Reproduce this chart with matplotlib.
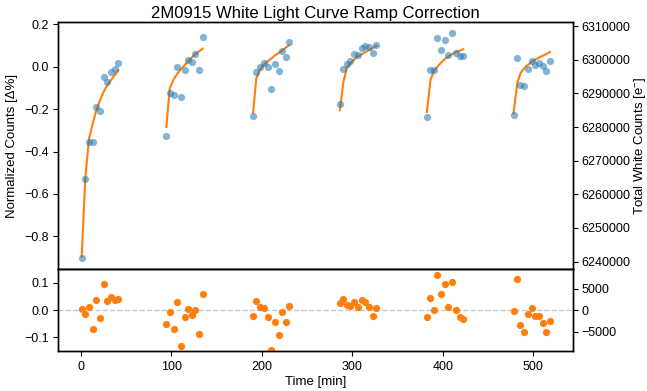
import matplotlib
matplotlib.use("Agg")
import matplotlib.pyplot as plt
import numpy as np

plt.rcParams['font.family'] = ['Liberation Sans', 'DejaVu Sans']
plt.rcParams['mathtext.default'] = 'regular'
plt.rcParams['axes.linewidth'] = 1.0

# time of each exposure per orbit [min]
t1 = [0.8, 4.8, 8.9, 13.0, 17.0, 21.1, 25.1, 29.2, 33.3, 37.4, 41.3]
t2 = [94.4, 98.1, 102.5, 106.1, 110.6, 114.6, 118.6, 122.7, 126.4, 130.8, 134.6]
t3 = [190.3, 193.8, 197.8, 201.9, 206.3, 210.0, 214.4, 218.5, 222.5, 226.5, 230.1]
t4 = [286.2, 290.2, 293.9, 297.9, 302.0, 306.1, 310.5, 314.5, 318.6, 322.7, 326.7]
t5 = [382.4, 386.4, 390.1, 394.1, 398.2, 402.3, 406.3, 410.4, 414.5, 418.5, 422.6]
t6 = [478.2, 482.3, 485.9, 490.0, 494.1, 498.1, 502.2, 506.3, 510.3, 514.4, 518.4]

# normalized white-light counts [Δ%]
f1 = [-0.903, -0.529, -0.356, -0.356, -0.190, -0.208, -0.046, -0.071, -0.025, -0.009, 0.020]
f2 = [-0.327, -0.122, -0.135, -0.003, -0.143, -0.016, 0.033, 0.025, 0.062, -0.016, 0.143]
f3 = [-0.232, -0.023, -0.003, 0.020, 0.001, -0.105, 0.014, -0.020, 0.076, 0.048, 0.119]
f4 = [-0.176, -0.011, 0.013, 0.029, 0.060, 0.058, 0.091, 0.097, 0.092, 0.066, 0.105]
f5 = [-0.236, -0.017, -0.017, 0.135, 0.079, 0.128, 0.058, 0.160, 0.066, 0.052, 0.049]
f6 = [-0.228, 0.042, -0.086, -0.091, -0.008, 0.028, 0.009, 0.020, 0.003, -0.022, 0.029]

# ramp model evaluated at exposure times [Δ%]
m1 = [-0.896, -0.522, -0.339, -0.268, -0.205, -0.157, -0.117, -0.086, -0.062, -0.038, -0.017]
m2 = [-0.284, -0.102, -0.059, -0.035, -0.011, 0.008, 0.028, 0.045, 0.060, 0.074, 0.086]
m3 = [-0.217, -0.054, -0.014, 0.009, 0.025, 0.038, 0.054, 0.065, 0.077, 0.091, 0.103]
m4 = [-0.205, -0.070, -0.006, 0.017, 0.034, 0.049, 0.060, 0.070, 0.079, 0.089, 0.099]
m5 = [-0.213, -0.062, -0.022, 0.001, 0.020, 0.037, 0.049, 0.060, 0.070, 0.076, 0.083]
m6 = [-0.220, -0.077, -0.030, -0.006, 0.009, 0.023, 0.034, 0.044, 0.052, 0.060, 0.070]

# residuals [Δ%]
r1 = [0.006, -0.015, 0.010, -0.068, 0.039, -0.027, 0.095, 0.034, 0.048, 0.036, 0.041]
r2 = [-0.050, -0.008, -0.069, 0.031, -0.131, -0.025, 0.006, -0.017, 0.002, -0.089, 0.058]
r3 = [-0.020, 0.034, 0.010, 0.007, -0.026, -0.148, -0.045, -0.091, -0.005, -0.045, 0.017]
r4 = [0.027, 0.040, 0.018, 0.014, 0.029, 0.012, 0.036, 0.029, 0.012, -0.020, 0.009]
r5 = [-0.025, 0.044, 0.001, 0.130, 0.061, 0.096, 0.013, 0.105, 0.000, -0.025, -0.033]
r6 = [-0.003, 0.116, -0.056, -0.080, -0.013, 0.009, -0.020, -0.020, -0.047, -0.080, -0.039]

# mean total white counts [e-]
mean_counts = 6297900

times = [t1, t2, t3, t4, t5, t6]
fluxes = [f1, f2, f3, f4, f5, f6]
models = [m1, m2, m3, m4, m5, m6]
resids = [r1, r2, r3, r4, r5, r6]

fig = plt.figure(figsize=(6.47, 3.91), dpi=100)
L, R = 58.3/647, 573.3/647
T, M, B = 21.7/391, 269.3/391, 351/391
ax = fig.add_axes([L, 1-M, R-L, M-T])
axr = fig.add_axes([L, 1-B, R-L, B-M], sharex=ax)

for t, f, m in zip(times, fluxes, models):
    ax.plot(t, m, '-', color='tab:orange', lw=1.5, zorder=2)
    ax.plot(t, f, 'o', color='tab:blue', alpha=0.55, ms=5.2, mec='none', zorder=3)
for t, r in zip(times, resids):
    axr.plot(t, r, 'o', color='tab:orange', ms=5.2, mec='none', zorder=3)
axr.axhline(0, color='#c8c8c8', ls='--', lw=1.0, zorder=1)

axr.set_ylim(-0.15, 0.15)
ax.set_yticks([-0.8, -0.6, -0.4, -0.2, 0.0, 0.2])
axr.set_yticks([-0.1, 0.0, 0.1])
axr.set_xticks([0, 100, 200, 300, 400, 500])
ax.tick_params(labelbottom=False)

lo, hi = ax.get_ylim()
ax2 = ax.twinx()
ax2.set_ylim(mean_counts*(1+lo/100), mean_counts*(1+hi/100))
ax2.set_yticks([6240000, 6250000, 6260000, 6270000, 6280000, 6290000, 6300000, 6310000])
ax2.ticklabel_format(axis='y', useOffset=False, style='plain')
lo2, hi2 = axr.get_ylim()
axr2 = axr.twinx()
axr2.set_ylim(mean_counts*lo2/100, mean_counts*hi2/100)
axr2.set_yticks([-5000, 0, 5000])

for a in (ax, axr):
    a.tick_params(labelsize=9)
for a in (ax2, axr2):
    a.tick_params(labelsize=9, pad=2.5)

ax.set_title('2M0915 White Light Curve Ramp Correction', fontsize=12, pad=3)
ax.set_ylabel('Normalized Counts [Δ%]', fontsize=9.5)
ax2.set_ylabel('Total White Counts [e$^{-}$]', fontsize=9.5, labelpad=1)
axr.set_xlabel('Time [min]', fontsize=9.5, labelpad=2)

fig.savefig('out.png', dpi=100)
